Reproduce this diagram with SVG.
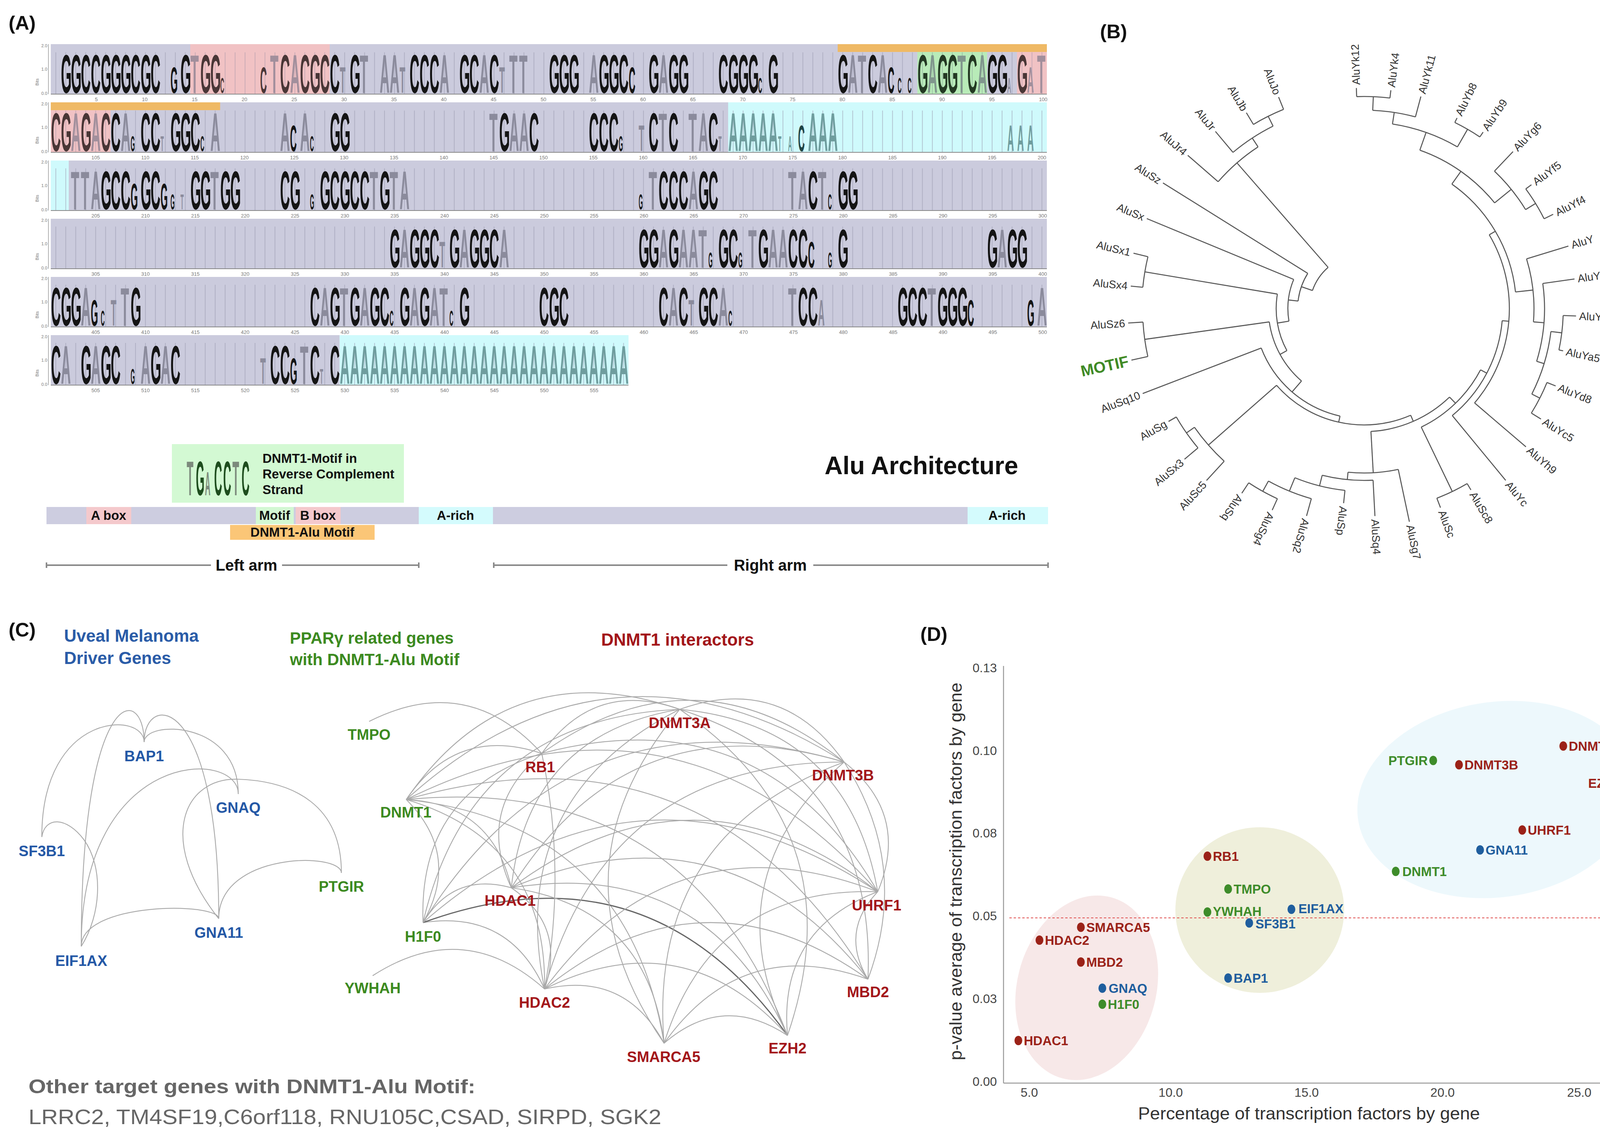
<svg xmlns="http://www.w3.org/2000/svg" width="4233" height="2911" viewBox="0 0 4233 2911">
<style>
text{font-family:"Liberation Sans",Arial,sans-serif}
.pl{font-size:50px;font-weight:bold;fill:#111}
.lg{font-weight:bold}
.bk{font-size:140px;fill:#141414}
.bg{font-size:140px;fill:#8b8b9c}
.mk{font-size:95px;fill:#141414}
.mg{font-size:95px;fill:#8b8b9c}
.sk{font-size:55px;fill:#141414}
.sg{font-size:55px;fill:#8b8b9c}
.tb{font-size:140px;fill:#6f9d9e}
.tm{font-size:95px;fill:#6f9d9e}
.ts{font-size:55px;fill:#6f9d9e}
.tc{font-size:95px;fill:#1e4444}
.tk1{font-size:13px;fill:#777;word-spacing:109.5px}
.tk3{font-size:13px;fill:#777;word-spacing:102.3px}
.ya{font-size:11px;fill:#777;text-anchor:end}
.bits{font-size:11px;fill:#777;text-anchor:middle}
.bar{font-size:33px;font-weight:bold;fill:#111;text-anchor:middle}
.arm{font-size:40px;font-weight:bold;fill:#111;text-anchor:middle}
.br{fill:none;stroke:#555;stroke-width:2.6}
.tl{font-family:"Open Sans","Liberation Sans",sans-serif;font-size:28px;fill:#333}
.ed{fill:none;stroke:#a9a9a9;stroke-width:2.2}
.nb{font-size:38px;font-weight:bold;fill:#2458a6;text-anchor:middle}
.ng{font-size:38px;font-weight:bold;fill:#3c8a1f;text-anchor:middle}
.nr{font-size:38px;font-weight:bold;fill:#a3161a;text-anchor:middle}
.dr{fill:#9b2218}.db{fill:#1f5e9e}.dg{fill:#3e8c2a}
.lr{font-size:33px;font-weight:bold;fill:#9b2218}
.lb{font-size:33px;font-weight:bold;fill:#1f5e9e}
.lgn{font-size:33px;font-weight:bold;fill:#3e8c2a}
.ax{font-size:32px;fill:#444}
</style>
<defs>
<pattern id="vg" x="130" y="0" width="25.5" height="10" patternUnits="userSpaceOnUse"><rect x="12.3" y="0" width="1.1" height="10" fill="#9a9ab0"/></pattern>
</defs>
<rect width="4233" height="2911" fill="#fff"/>

<!-- ================= PANEL A ================= -->
<g id="panelA">
<text class="pl" x="22" y="76">(A)</text>

<!-- Row 1 -->
<g id="logo-row1">
<rect x="130" y="113" width="2550" height="128" fill="#cbcbdd"/>
<rect x="487" y="113" width="357" height="128" fill="#f4cfd2"/>
<rect x="2348.5" y="133" width="178.5" height="108" fill="#d3f8d3"/>
<rect x="2603.5" y="133" width="76.5" height="108" fill="#f4cfd2"/>
<rect x="2144.5" y="113" width="535.5" height="20" fill="#efb965"/>
<rect x="130" y="134" width="2550" height="107" fill="url(#vg)"/>
<g transform="translate(130,238) scale(0.25,1)">
<text class="lg" y="0"><tspan class="bk" x="104 206 308 410 512 614 716 818 920 1022 1328 1532 1634 2348 2552 2654 2756 2858 3062 3674 3776 3878 4184 4286 4490 5102 5204 5306 5612 5714 5816 6122 6326 6428 6836 6938 7040 7142 7346 8060 8366 8876 9080 9182 9386 9590 9692 9896">GGCCGGGCGCGGGCCGCCGCCCGCCGGGGGCGGGCGGGGGCGGGCGGG</tspan><tspan class="bg" x="1430 2246 2450 3164 3368 3470 3980 4388 4694 4796 5510 6224 8162 8264 8468 8978 9284 9488 10100">TTATAAAATTAAATAATAT</tspan><tspan class="mk" x="1226 2144 5918 8570">GCCC</tspan><tspan class="mg" x="2960 3572 4592 9998">TTTA</tspan><tspan class="sk" x="1736 7244 8672 8774">CCCC</tspan><tspan class="sg" x="9794">A</tspan></text>
</g>
<rect x="487" y="113" width="357" height="128" fill="#e89a9a" opacity="0.25"/>
<rect x="2348.5" y="133" width="178.5" height="108" fill="#5cbf5c" opacity="0.22"/>
<rect x="2603.5" y="133" width="76.5" height="108" fill="#e89a9a" opacity="0.25"/>
<line x1="130" y1="241" x2="2680" y2="241" stroke="#888" stroke-width="2"/>
<line x1="124" y1="113" x2="124" y2="241" stroke="#999" stroke-width="1.5"/>
<text class="ya"><tspan x="121" y="121">2.0</tspan><tspan x="121" y="181">1.0</tspan><tspan x="121" y="243">0.0</tspan></text>
<text class="bits" transform="translate(99,210) rotate(-90)">Bits</text>
<text class="tk1" x="243" y="259">5 10 15 20 25 30 35 40 45 50 55 60 65 70 75 80 85 90 95 100</text>
</g>

<!-- Row 2 -->
<g id="logo-row2">
<rect x="130" y="262" width="2550" height="128" fill="#cbcbdd"/>
<rect x="130" y="282" width="153" height="108" fill="#f4cfd2"/>
<rect x="1864" y="262" width="816" height="128" fill="#cffafc"/>
<rect x="130" y="262" width="433.5" height="20" fill="#efb965"/>
<rect x="130" y="283" width="2550" height="107" fill="url(#vg)"/>
<g transform="translate(130,387) scale(0.25,1)">
<text class="lg" y="0"><tspan class="bk" x="2 104 308 512 614 920 1022 1226 1328 1430 2858 2960 4592 4898 5510 5612 5714 6122 6326 6734">CGGCCCCGGCGGGCCCCCCC</tspan><tspan class="bg" x="206 410 716 1634 2348 2552 4490 4694 4796 6224 6530 6632">AAAAAATAATTA</tspan><tspan class="mk" x="2450">C</tspan><tspan class="mg" x="6020">T</tspan><tspan class="sk" x="818 1532 2654 5816">GCCG</tspan><tspan class="sg" x="1124 6836">TT</tspan><tspan class="tb" x="6938 7040 7142 7244 7346 7754 7856 7958">AAAAAAAA</tspan><tspan class="tm" x="9794 9896 9998">AAA</tspan><tspan class="ts" x="7448 7550">TA</tspan><tspan class="tc" x="7652">C</tspan></text>
</g>
<rect x="130" y="282" width="153" height="108" fill="#e89a9a" opacity="0.25"/>
<line x1="130" y1="390" x2="2680" y2="390" stroke="#888" stroke-width="2"/>
<line x1="124" y1="262" x2="124" y2="390" stroke="#999" stroke-width="1.5"/>
<text class="ya"><tspan x="121" y="270">2.0</tspan><tspan x="121" y="330">1.0</tspan><tspan x="121" y="392">0.0</tspan></text>
<text class="bits" transform="translate(99,359) rotate(-90)">Bits</text>
<text class="tk3" x="234" y="408">105 110 115 120 125 130 135 140 145 150 155 160 165 170 175 180 185 190 195 200</text>
</g>

<!-- Row 3 -->
<g id="logo-row3">
<rect x="130" y="411" width="2550" height="128" fill="#cbcbdd"/>
<rect x="130" y="411" width="46" height="128" fill="#cffafc"/>
<rect x="130" y="431" width="2550" height="108" fill="url(#vg)"/>
<g transform="translate(130,536) scale(0.25,1)">
<text class="lg" y="0"><tspan class="bk" x="512 614 716 920 1022 1430 1532 1736 1838 2348 2450 2756 2858 2960 3062 3164 3368 6224 6326 6428 6632 6734 7754 8060 8162">GCCGCGGGGCGGCGCCGCCCGCCGG</tspan><tspan class="bg" x="206 308 410 1634 3266 3470 3572 6122 6530 7550 7652 7856">TTATTTATATAT</tspan><tspan class="mk" x="818 1124">GG</tspan><tspan class="sk" x="1226 2654 6020 7958">GGGC</tspan><tspan class="sg" x="1328">T</tspan></text>
</g>
<line x1="130" y1="539" x2="2680" y2="539" stroke="#888" stroke-width="2"/>
<line x1="124" y1="411" x2="124" y2="539" stroke="#999" stroke-width="1.5"/>
<text class="ya"><tspan x="121" y="419">2.0</tspan><tspan x="121" y="479">1.0</tspan><tspan x="121" y="541">0.0</tspan></text>
<text class="bits" transform="translate(99,508) rotate(-90)">Bits</text>
<text class="tk3" x="234" y="557">205 210 215 220 225 230 235 240 245 250 255 260 265 270 275 280 285 290 295 300</text>
</g>

<!-- Row 4 -->
<g id="logo-row4">
<rect x="130" y="560" width="2550" height="128" fill="#cbcbdd"/>
<rect x="130" y="580" width="2550" height="108" fill="url(#vg)"/>
<g transform="translate(130,685) scale(0.25,1)">
<text class="lg" y="0"><tspan class="bk" x="3470 3674 3776 3878 4082 4286 4388 4490 6020 6122 6326 6836 6938 7244 7550 7652 8060 9590 9794 9896">GGGCGGGCGGGGCGCCGGGG</tspan><tspan class="bg" x="3572 4184 4592 6224 6428 6530 6632 7142 7346 7448 9692">AAAAAATTAAA</tspan><tspan class="mg" x="3980">T</tspan><tspan class="mk" x="7754">C</tspan><tspan class="sk" x="6734 7040 7958">GGG</tspan></text>
</g>
<line x1="130" y1="688" x2="2680" y2="688" stroke="#888" stroke-width="2"/>
<line x1="124" y1="560" x2="124" y2="688" stroke="#999" stroke-width="1.5"/>
<text class="ya"><tspan x="121" y="568">2.0</tspan><tspan x="121" y="628">1.0</tspan><tspan x="121" y="690">0.0</tspan></text>
<text class="bits" transform="translate(99,657) rotate(-90)">Bits</text>
<text class="tk3" x="234" y="706">305 310 315 320 325 330 335 340 345 350 355 360 365 370 375 380 385 390 395 400</text>
</g>

<!-- Row 5 -->
<g id="logo-row5">
<rect x="130" y="709" width="2550" height="128" fill="#cbcbdd"/>
<rect x="130" y="729" width="2550" height="108" fill="url(#vg)"/>
<g transform="translate(130,834) scale(0.25,1)">
<text class="lg" y="0"><tspan class="bk" x="2 104 206 818 2654 2858 3062 3266 3368 3572 3776 4184 5000 5102 5204 6224 6428 6632 6734 7652 7754 8672 8774 8876 9080 9182 9284">CGGGCGGGCGGGCGCCCGCCCGCCGGG</tspan><tspan class="bg" x="308 716 2756 2960 3164 3674 3878 3980 6326 6836 7550 8978 10100">ATATAAATAATTA</tspan><tspan class="mk" x="410 9386 9998">GCG</tspan><tspan class="mg" x="614 6530 7856">TTA</tspan><tspan class="sk" x="512 3470 4082 6938">CCCC</tspan></text>
</g>
<line x1="130" y1="837" x2="2680" y2="837" stroke="#888" stroke-width="2"/>
<line x1="124" y1="709" x2="124" y2="837" stroke="#999" stroke-width="1.5"/>
<text class="ya"><tspan x="121" y="717">2.0</tspan><tspan x="121" y="777">1.0</tspan><tspan x="121" y="839">0.0</tspan></text>
<text class="bits" transform="translate(99,806) rotate(-90)">Bits</text>
<text class="tk3" x="234" y="855">405 410 415 420 425 430 435 440 445 450 455 460 465 470 475 480 485 490 495 500</text>
</g>

<!-- Row 6 -->
<g id="logo-row6">
<rect x="130" y="858" width="739.5" height="128" fill="#cbcbdd"/>
<rect x="869.5" y="858" width="739.5" height="128" fill="#cffafc"/>
<rect x="130" y="878" width="1479" height="108" fill="url(#vg)"/>
<g transform="translate(130,983) scale(0.25,1)">
<text class="lg" y="0"><tspan class="bk" x="2 308 512 614 1022 1226 2246 2348 2654 2858">CGGCGCCCCC</tspan><tspan class="bg" x="104 410 920 1124 2552">AAAAT</tspan><tspan class="mg" x="2144">T</tspan><tspan class="mk" x="2450">G</tspan><tspan class="sk" x="818">G</tspan><tspan class="sg" x="2756">T</tspan><tspan class="tb" x="2960 3062 3164 3266 3368 3470 3572 3674 3776 3878 3980 4082 4184 4286 4388 4490 4592 4694 4796 4898 5000 5102 5204 5306 5408 5510 5612 5714 5816">AAAAAAAAAAAAAAAAAAAAAAAAAAAAA</tspan></text>
</g>
<line x1="130" y1="986" x2="1609" y2="986" stroke="#888" stroke-width="2"/>
<line x1="124" y1="858" x2="124" y2="986" stroke="#999" stroke-width="1.5"/>
<text class="ya"><tspan x="121" y="866">2.0</tspan><tspan x="121" y="926">1.0</tspan><tspan x="121" y="988">0.0</tspan></text>
<text class="bits" transform="translate(99,955) rotate(-90)">Bits</text>
<text class="tk3" x="234" y="1004">505 510 515 520 525 530 535 540 545 550 555</text>
</g>

<!-- Motif box -->
<g id="motif-box">
<rect x="440" y="1137" width="594" height="150" fill="#d3f9d3"/>
<g transform="translate(478,1268) scale(0.225,1)">
<text class="lg" y="0"><tspan x="0 520" style="font-size:125px;fill:#7c8a7c">TT</tspan><tspan x="104 312 416 624" style="font-size:125px;fill:#1e4d1e">GCCC</tspan><tspan x="208" style="font-size:85px;fill:#7c8a7c">A</tspan></text>
</g>
<text style="font-size:33px;font-weight:bold;fill:#111"><tspan x="672" y="1185">DNMT1-Motif in</tspan><tspan x="672" y="1225">Reverse Complement</tspan><tspan x="672" y="1265">Strand</tspan></text>
</g>
<text id="alu-title" x="2111" y="1214" style="font-size:64px;font-weight:bold;fill:#111">Alu Architecture</text>

<!-- Architecture bar -->
<g id="arch-bar">
<rect x="119" y="1298" width="2564" height="44" fill="#cdcde0"/>
<rect x="221" y="1298" width="115" height="44" fill="#f4c9cc"/>
<rect x="655" y="1298" width="97" height="44" fill="#d3f8d3"/>
<rect x="757" y="1298" width="115" height="44" fill="#f4c9cc"/>
<rect x="1072" y="1298" width="190" height="44" fill="#d4fbfd"/>
<rect x="2477" y="1298" width="206" height="44" fill="#d4fbfd"/>
<text class="bar" x="278" y="1331">A box</text>
<text class="bar" x="703" y="1331">Motif</text>
<text class="bar" x="814" y="1331">B box</text>
<text class="bar" x="1166" y="1331">A-rich</text>
<text class="bar" x="2578" y="1331">A-rich</text>
<rect x="589" y="1344" width="370" height="38" fill="#fbc677"/>
<text class="bar" x="774" y="1374">DNMT1-Alu Motif</text>
</g>
<g id="arms" stroke="#8a8a8a" stroke-width="4">
<line x1="119" y1="1447" x2="540" y2="1447"/><line x1="722" y1="1447" x2="1072" y2="1447"/>
<line x1="119" y1="1440" x2="119" y2="1454"/><line x1="1072" y1="1440" x2="1072" y2="1454"/>
<line x1="1264" y1="1447" x2="1862" y2="1447"/><line x1="2082" y1="1447" x2="2683" y2="1447"/>
<line x1="1264" y1="1440" x2="1264" y2="1454"/><line x1="2683" y1="1440" x2="2683" y2="1454"/>
</g>
<text class="arm" x="631" y="1461">Left arm</text>
<text class="arm" x="1972" y="1461">Right arm</text>
</g>

<!-- ================= PANEL B ================= -->
<g id="panelB">
<text class="pl" x="2816" y="98">(B)</text>
<g id="tree-branches" class="br" transform="translate(3492,790)">
<circle r="543" pathLength="360" stroke-dasharray="9 400" transform="rotate(-92)"/>
<circle r="508" pathLength="360" stroke-dasharray="12.5 400" transform="rotate(-87.5)"/>
<circle r="530" pathLength="360" stroke-dasharray="8 400" transform="rotate(-64)"/>
<circle r="478" pathLength="360" stroke-dasharray="21.25 400" transform="rotate(-81.25)"/>
<circle r="515" pathLength="360" stroke-dasharray="10 400" transform="rotate(-36.5)"/>
<circle r="485" pathLength="360" stroke-dasharray="15 400" transform="rotate(-46.5)"/>
<circle r="430" pathLength="360" stroke-dasharray="31.6 400" transform="rotate(-70.6)"/>
<circle r="510" pathLength="360" stroke-dasharray="10 400" transform="rotate(2)"/>
<circle r="505" pathLength="360" stroke-dasharray="10 400" transform="rotate(22)"/>
<circle r="482" pathLength="360" stroke-dasharray="20 400" transform="rotate(7)"/>
<circle r="462" pathLength="360" stroke-dasharray="25 400" transform="rotate(-8)"/>
<circle r="435" pathLength="360" stroke-dasharray="21.5 400" transform="rotate(-17)"/>
<circle r="390" pathLength="360" stroke-dasharray="48.55 400" transform="rotate(-54.8)"/>
<circle r="372" pathLength="360" stroke-dasharray="71 400" transform="rotate(-30.5)"/>
<circle r="355" pathLength="360" stroke-dasharray="45.5 400" transform="rotate(5)"/>
<circle r="520" pathLength="360" stroke-dasharray="9.5 400" transform="rotate(59.5)"/>
<circle r="337" pathLength="360" stroke-dasharray="36.5 400" transform="rotate(27.75)"/>
<circle r="535" pathLength="360" stroke-dasharray="9 400" transform="rotate(114.5)"/>
<circle r="505" pathLength="360" stroke-dasharray="13.5 400" transform="rotate(105.5)"/>
<circle r="468" pathLength="360" stroke-dasharray="16.25 400" transform="rotate(96)"/>
<circle r="440" pathLength="360" stroke-dasharray="17.1 400" transform="rotate(87)"/>
<circle r="421" pathLength="360" stroke-dasharray="17.6 400" transform="rotate(78)"/>
<circle r="315" pathLength="360" stroke-dasharray="40.8 400" transform="rotate(46)"/>
<circle r="555" pathLength="360" stroke-dasharray="10 400" transform="rotate(140)"/>
<circle r="530" pathLength="360" stroke-dasharray="12.5 400" transform="rotate(132.5)"/>
<circle r="298" pathLength="360" stroke-dasharray="72.35 400" transform="rotate(66.4)"/>
<circle r="282" pathLength="360" stroke-dasharray="56.4 400" transform="rotate(102.6)"/>
<circle r="567" pathLength="360" stroke-dasharray="9 400" transform="rotate(167.5)"/>
<circle r="245" pathLength="360" stroke-dasharray="41.2 400" transform="rotate(130.8)"/>
<circle r="569" pathLength="360" stroke-dasharray="8 400" transform="rotate(185.5)"/>
<circle r="225" pathLength="360" stroke-dasharray="38.1 400" transform="rotate(151.4)"/>
<circle r="195" pathLength="360" stroke-dasharray="32 400" transform="rotate(170.5)"/>
<circle r="170" pathLength="360" stroke-dasharray="25.5 400" transform="rotate(186.5)"/>
<circle r="550" pathLength="360" stroke-dasharray="9 400" transform="rotate(239)"/>
<circle r="522" pathLength="360" stroke-dasharray="13.5 400" transform="rotate(230)"/>
<circle r="495" pathLength="360" stroke-dasharray="15.75 400" transform="rotate(221)"/>
<circle r="140" pathLength="360" stroke-dasharray="29.65 400" transform="rotate(199.25)"/>
<line x1="543" x2="565" transform="rotate(-92)"/>
<line x1="543" x2="563" transform="rotate(-83)"/>
<line x1="508" x2="562" transform="rotate(-75)"/>
<line x1="530" x2="543" transform="rotate(-64)"/>
<line x1="530" x2="545" transform="rotate(-56)"/>
<line x1="485" x2="554" transform="rotate(-46.5)"/>
<line x1="515" x2="533" transform="rotate(-36.5)"/>
<line x1="515" x2="541" transform="rotate(-26.5)"/>
<line x1="435" x2="547" transform="rotate(-17)"/>
<line x1="462" x2="544" transform="rotate(-8)"/>
<line x1="510" x2="543" transform="rotate(2)"/>
<line x1="510" x2="521" transform="rotate(12)"/>
<line x1="505" x2="529" transform="rotate(22)"/>
<line x1="505" x2="534" transform="rotate(32)"/>
<line x1="372" x2="545" transform="rotate(40.5)"/>
<line x1="355" x2="570" transform="rotate(50.5)"/>
<line x1="520" x2="539" transform="rotate(59.5)"/>
<line x1="520" x2="546" transform="rotate(69)"/>
<line x1="421" x2="558" transform="rotate(78)"/>
<line x1="440" x2="532" transform="rotate(87)"/>
<line x1="468" x2="501" transform="rotate(96)"/>
<line x1="505" x2="551" transform="rotate(105.5)"/>
<line x1="535" x2="567" transform="rotate(114.5)"/>
<line x1="535" x2="567" transform="rotate(123.5)"/>
<line x1="530" x2="597" transform="rotate(132.5)"/>
<line x1="555" x2="600" transform="rotate(140)"/>
<line x1="555" x2="578" transform="rotate(150)"/>
<line x1="282" x2="607" transform="rotate(159)"/>
<line x1="567" x2="610" transform="rotate(167.5)"/>
<line x1="567" x2="605" transform="rotate(176.5)"/>
<line x1="569" x2="600" transform="rotate(185.5)"/>
<line x1="569" x2="607" transform="rotate(193.5)"/>
<line x1="195" x2="602" transform="rotate(202.5)"/>
<line x1="170" x2="607" transform="rotate(212)"/>
<line x1="495" x2="598" transform="rotate(221)"/>
<line x1="522" x2="592" transform="rotate(230)"/>
<line x1="550" x2="585" transform="rotate(239)"/>
<line x1="550" x2="584" transform="rotate(248)"/>
<line x1="508" x2="543" transform="rotate(-87.5)"/>
<line x1="478" x2="508" transform="rotate(-81.25)"/>
<line x1="478" x2="530" transform="rotate(-60)"/>
<line x1="430" x2="478" transform="rotate(-70.6)"/>
<line x1="485" x2="515" transform="rotate(-31.5)"/>
<line x1="430" x2="485" transform="rotate(-39)"/>
<line x1="390" x2="430" transform="rotate(-54.8)"/>
<line x1="482" x2="510" transform="rotate(7)"/>
<line x1="482" x2="505" transform="rotate(27)"/>
<line x1="462" x2="482" transform="rotate(17)"/>
<line x1="435" x2="462" transform="rotate(4.5)"/>
<line x1="390" x2="435" transform="rotate(-6.25)"/>
<line x1="372" x2="390" transform="rotate(-30.5)"/>
<line x1="355" x2="372" transform="rotate(5)"/>
<line x1="337" x2="355" transform="rotate(27.75)"/>
<line x1="337" x2="520" transform="rotate(64.25)"/>
<line x1="315" x2="337" transform="rotate(46)"/>
<line x1="505" x2="535" transform="rotate(119)"/>
<line x1="468" x2="505" transform="rotate(112.25)"/>
<line x1="440" x2="468" transform="rotate(104.1)"/>
<line x1="421" x2="440" transform="rotate(95.6)"/>
<line x1="315" x2="421" transform="rotate(86.8)"/>
<line x1="298" x2="315" transform="rotate(66.4)"/>
<line x1="530" x2="555" transform="rotate(145)"/>
<line x1="298" x2="530" transform="rotate(138.75)"/>
<line x1="282" x2="298" transform="rotate(102.6)"/>
<line x1="245" x2="282" transform="rotate(130.8)"/>
<line x1="245" x2="567" transform="rotate(172)"/>
<line x1="225" x2="245" transform="rotate(151.4)"/>
<line x1="225" x2="569" transform="rotate(189.5)"/>
<line x1="195" x2="225" transform="rotate(170.5)"/>
<line x1="170" x2="195" transform="rotate(186.5)"/>
<line x1="140" x2="170" transform="rotate(199.25)"/>
<line x1="522" x2="550" transform="rotate(243.5)"/>
<line x1="495" x2="522" transform="rotate(236.75)"/>
<line x1="140" x2="495" transform="rotate(228.9)"/>
</g>
<g id="tree-labels" class="tl" transform="translate(3492,790)">
<text transform="rotate(-92) translate(573,0)" dy="0.35em">AluYk12</text>
<text transform="rotate(-83) translate(571,0)" dy="0.35em">AluYk4</text>
<text transform="rotate(-75) translate(570,0)" dy="0.35em">AluYk11</text>
<text transform="rotate(-64) translate(551,0)" dy="0.35em">AluYb8</text>
<text transform="rotate(-56) translate(553,0)" dy="0.35em">AluYb9</text>
<text transform="rotate(-46.5) translate(562,0)" dy="0.35em">AluYg6</text>
<text transform="rotate(-36.5) translate(541,0)" dy="0.35em">AluYf5</text>
<text transform="rotate(-26.5) translate(549,0)" dy="0.35em">AluYf4</text>
<text transform="rotate(-17) translate(555,0)" dy="0.35em">AluY</text>
<text transform="rotate(-8) translate(552,0)" dy="0.35em">AluYc3</text>
<text transform="rotate(2) translate(551,0)" dy="0.35em">AluYa8</text>
<text transform="rotate(12) translate(529,0)" dy="0.35em">AluYa5</text>
<text transform="rotate(22) translate(537,0)" dy="0.35em">AluYd8</text>
<text transform="rotate(32) translate(542,0)" dy="0.35em">AluYc5</text>
<text transform="rotate(40.5) translate(553,0)" dy="0.35em">AluYh9</text>
<text transform="rotate(50.5) translate(578,0)" dy="0.35em">AluYc</text>
<text transform="rotate(59.5) translate(547,0)" dy="0.35em">AluSc8</text>
<text transform="rotate(69) translate(554,0)" dy="0.35em">AluSc</text>
<text transform="rotate(78) translate(566,0)" dy="0.35em">AluSg7</text>
<text transform="rotate(87) translate(540,0)" dy="0.35em">AluSq4</text>
<text transform="rotate(96) translate(509,0)" dy="0.35em">AluSp</text>
<text transform="rotate(105.5) translate(559,0)" dy="0.35em">AluSq2</text>
<text transform="rotate(114.5) translate(575,0)" dy="0.35em">AluSg4</text>
<text transform="rotate(123.5) translate(575,0)" dy="0.35em">AluSq</text>
<text transform="rotate(132.5) translate(605,0) rotate(180)" dy="0.35em" text-anchor="end">AluSc5</text>
<text transform="rotate(140) translate(608,0) rotate(180)" dy="0.35em" text-anchor="end">AluSx3</text>
<text transform="rotate(150) translate(586,0) rotate(180)" dy="0.35em" text-anchor="end">AluSg</text>
<text transform="rotate(159) translate(615,0) rotate(180)" dy="0.35em" text-anchor="end">AluSq10</text>
<text transform="rotate(167.5) translate(618,0) rotate(180)" dy="0.35em" text-anchor="end" style="font-family:'Liberation Sans',Arial,sans-serif;font-size:40px;font-weight:bold;fill:#3f8a25">MOTIF</text>
<text transform="rotate(176.5) translate(613,0) rotate(180)" dy="0.35em" text-anchor="end">AluSz6</text>
<text transform="rotate(185.5) translate(608,0) rotate(180)" dy="0.35em" text-anchor="end">AluSx4</text>
<text transform="rotate(193.5) translate(615,0) rotate(180)" dy="0.35em" text-anchor="end">AluSx1</text>
<text transform="rotate(202.5) translate(610,0) rotate(180)" dy="0.35em" text-anchor="end">AluSx</text>
<text transform="rotate(212) translate(615,0) rotate(180)" dy="0.35em" text-anchor="end">AluSz</text>
<text transform="rotate(221) translate(606,0) rotate(180)" dy="0.35em" text-anchor="end">AluJr4</text>
<text transform="rotate(230) translate(600,0) rotate(180)" dy="0.35em" text-anchor="end">AluJr</text>
<text transform="rotate(239) translate(593,0) rotate(180)" dy="0.35em" text-anchor="end">AluJb</text>
<text transform="rotate(248) translate(592,0) rotate(180)" dy="0.35em" text-anchor="end">AluJo</text>
</g>
</g>

<!-- ================= PANEL C ================= -->
<g id="panelC">
<text class="pl" x="22" y="1630">(C)</text>
<text style="font-size:44px;font-weight:bold;fill:#2a5ca8"><tspan x="164" y="1643">Uveal Melanoma</tspan><tspan x="164" y="1700">Driver Genes</tspan></text>
<text style="font-size:42px;font-weight:bold;fill:#3c8a1f"><tspan x="742" y="1648">PPARγ related genes</tspan><tspan x="742" y="1703">with DNMT1-Alu Motif</tspan></text>
<text x="1539" y="1653" style="font-size:44px;font-weight:bold;fill:#a3161a">DNMT1 interactors</text>

<g id="edges-left" class="ed">
<path d="M107,2143 C107,1820 369,1820 369,1900"/>
<path d="M208,2423 C208,1750 369,1750 369,1900"/>
<path d="M369,1900 C369,1771 560,1771 560,2352"/>
<path d="M369,1900 C369,1843 610,1843 610,2033"/>
<path d="M208,2423 C208,1915 610,1915 610,2033"/>
<path d="M560,2352 C560,2181 874,2181 874,2235"/>
<path d="M560,2352 C400,2150 470,1990 610,1995 C750,2000 874,2060 874,2235"/>
<path d="M107,2143 C115,2090 170,2090 215,2150 C265,2220 260,2340 208,2423"/>
<path d="M208,2423 C208,2309 560,2309 560,2352"/>
</g>
<g id="edges-right" class="ed">
<path d="M945,1847 Q1197,1720 1387,1929"/>
<path d="M954,2498 Q1187,2348 1394,2532"/>
<path d="M1040,2047 Q1169,1856 1387,1929"/>
<path d="M1040,2047 Q1302,1666 1740,1816"/>
<path d="M1040,2047 Q1564,1573 2161,1951"/>
<path d="M1040,2047 Q1733,1706 2247,2283"/>
<path d="M1040,2047 Q1260,2058 1309,2273"/>
<path d="M1040,2047 Q1401,2155 1394,2532"/>
<path d="M1040,2047 Q1806,1828 2222,2507"/>
<path d="M1040,2047 Q1758,1978 2016,2651"/>
<path d="M1040,2047 Q1607,2108 1700,2671"/>
<path d="M1040,2047 Q1181,2188 1083,2362"/>
<path d="M1083,2362 Q1070,2030 1387,1929"/>
<path d="M1083,2362 Q1204,1839 1740,1816"/>
<path d="M1083,2362 Q1466,1747 2161,1951"/>
<path d="M1083,2362 Q1162,2232 1309,2273"/>
<path d="M1083,2362 Q1303,2329 1394,2532"/>
<path d="M1083,2362 Q1659,2152 2016,2651" style="stroke:#666;stroke-width:3"/>
<path d="M1083,2362 Q1635,1880 2247,2283"/>
<path d="M1387,1929 Q1521,1738 1740,1816"/>
<path d="M1387,1929 Q1782,1646 2161,1951"/>
<path d="M1309,2273 Q1217,2071 1387,1929"/>
<path d="M1387,1929 Q1451,2230 1394,2532"/>
<path d="M1740,1816 Q2002,1724 2161,1951"/>
<path d="M1740,1816 Q2171,1857 2247,2283"/>
<path d="M1740,1816 Q2195,2129 2016,2651"/>
<path d="M1309,2273 Q1351,1881 1740,1816"/>
<path d="M1394,2532 Q1295,2042 1740,1816"/>
<path d="M1740,1816 Q2244,1978 2222,2507"/>
<path d="M1700,2671 Q1395,2228 1740,1816"/>
<path d="M2161,1951 Q2330,2084 2247,2283"/>
<path d="M2161,1951 Q2331,2214 2222,2507"/>
<path d="M1309,2273 Q1613,1788 2161,1951"/>
<path d="M1394,2532 Q1557,1950 2161,1951"/>
<path d="M1700,2671 Q1657,2136 2161,1951"/>
<path d="M2016,2651 Q1822,2246 2161,1951"/>
<path d="M1309,2273 Q1450,2370 1394,2532"/>
<path d="M1309,2273 Q1782,1922 2247,2283"/>
<path d="M1309,2273 Q1854,2043 2222,2507"/>
<path d="M1309,2273 Q1806,2193 2016,2651"/>
<path d="M1309,2273 Q1656,2323 1700,2671"/>
<path d="M1394,2532 Q1799,2205 2222,2507"/>
<path d="M1394,2532 Q1750,2355 2016,2651"/>
<path d="M1394,2532 Q1600,2485 1700,2671"/>
<path d="M1394,2532 Q1726,2083 2247,2283"/>
<path d="M1700,2671 Q1850,2541 2016,2651"/>
<path d="M2222,2507 Q2149,2386 2247,2283"/>
<path d="M1700,2671 Q1826,2269 2247,2283"/>
<path d="M1700,2671 Q1899,2391 2222,2507"/>
<path d="M2016,2651 Q1992,2379 2247,2283"/>
<path d="M1387,1929 Q1952,1779 2247,2283"/>
</g>

<g id="node-BAP1"><text class="nb" x="369" y="1949">BAP1</text></g>
<g id="node-GNAQ"><text class="nb" x="610" y="2081">GNAQ</text></g>
<g id="node-SF3B1"><text class="nb" x="107" y="2192">SF3B1</text></g>
<g id="node-PTGIR"><text class="ng" x="874" y="2283">PTGIR</text></g>
<g id="node-GNA11"><text class="nb" x="560" y="2401">GNA11</text></g>
<g id="node-EIF1AX"><text class="nb" x="208" y="2473">EIF1AX</text></g>
<g id="node-TMPO"><text class="ng" x="945" y="1894">TMPO</text></g>
<g id="node-RB1"><text class="nr" x="1383" y="1977">RB1</text></g>
<g id="node-DNMT1"><text class="ng" x="1039" y="2093">DNMT1</text></g>
<g id="node-HDAC1"><text class="nr" x="1306" y="2319">HDAC1</text></g>
<g id="node-H1F0"><text class="ng" x="1083" y="2411">H1F0</text></g>
<g id="node-YWHAH"><text class="ng" x="954" y="2543">YWHAH</text></g>
<g id="node-HDAC2"><text class="nr" x="1394" y="2580">HDAC2</text></g>
<g id="node-DNMT3A"><text class="nr" x="1740" y="1864">DNMT3A</text></g>
<g id="node-DNMT3B"><text class="nr" x="2158" y="1998">DNMT3B</text></g>
<g id="node-UHRF1"><text class="nr" x="2244" y="2331">UHRF1</text></g>
<g id="node-MBD2"><text class="nr" x="2222" y="2553">MBD2</text></g>
<g id="node-EZH2"><text class="nr" x="2016" y="2697">EZH2</text></g>
<g id="node-SMARCA5"><text class="nr" x="1699" y="2719">SMARCA5</text></g>

<text x="73" y="2799" textLength="1144" lengthAdjust="spacingAndGlyphs" style="font-size:50px;font-weight:bold;fill:#666">Other target genes with DNMT1-Alu Motif:</text>
<text x="73" y="2878" textLength="1620" lengthAdjust="spacingAndGlyphs" style="font-size:54px;fill:#666">LRRC2, TM4SF19,C6orf118, RNU105C,CSAD, SIRPD, SGK2</text>
</g>

<!-- ================= PANEL D ================= -->
<g id="panelD">
<text class="pl" x="2356" y="1641">(D)</text>
<ellipse cx="2782" cy="2529" rx="178" ry="240" fill="#f7e8e8" transform="rotate(15 2782 2529)"/>
<ellipse cx="3225" cy="2330" rx="216" ry="212" fill="#efefdb"/>
<ellipse cx="3833" cy="2047" rx="360" ry="250" fill="#edf8fc" transform="rotate(-8 3833 2047)"/>
<line x1="2569" y1="1705" x2="2569" y2="2773" stroke="#999" stroke-width="2.5"/>
<line x1="2569" y1="2773" x2="4200" y2="2773" stroke="#999" stroke-width="2.5"/>
<line x1="2584" y1="2350" x2="4184" y2="2350" stroke="#e05050" stroke-width="2" stroke-dasharray="6 5"/>
<text class="ax" text-anchor="end"><tspan x="2552" y="1721">0.13</tspan><tspan x="2552" y="1933">0.10</tspan><tspan x="2552" y="2144">0.08</tspan><tspan x="2552" y="2356">0.05</tspan><tspan x="2552" y="2568">0.03</tspan><tspan x="2552" y="2780">0.00</tspan></text>
<text class="ax" text-anchor="middle" y="2808"><tspan x="2635">5.0</tspan><tspan x="2997">10.0</tspan><tspan x="3345">15.0</tspan><tspan x="3693">20.0</tspan><tspan x="4043">25.0</tspan></text>
<text x="3351" y="2866" text-anchor="middle" textLength="875" lengthAdjust="spacingAndGlyphs" style="font-size:45px;fill:#333">Percentage of transcription factors by gene</text>
<text transform="translate(2462,2231) rotate(-90)" text-anchor="middle" textLength="967" lengthAdjust="spacingAndGlyphs" style="font-size:45px;fill:#333">p-value average of transcription factors by gene</text>

<g id="points">
<g id="pt-DNMT3A"><ellipse class="dr" cx="4002" cy="1910" rx="10" ry="12"/><text class="lr" x="4016" y="1922">DNMT3A</text></g>
<g id="pt-PTGIR"><ellipse class="dg" cx="3669" cy="1947" rx="10" ry="12"/><text class="lgn" x="3655" y="1959" text-anchor="end">PTGIR</text></g>
<g id="pt-DNMT3B"><ellipse class="dr" cx="3735" cy="1958" rx="10" ry="12"/><text class="lr" x="3749" y="1970">DNMT3B</text></g>
<g id="pt-EZH2"><ellipse class="dr" cx="4164" cy="2005" rx="10" ry="12"/><text class="lr" x="4150" y="2017" text-anchor="end">EZH2</text></g>
<g id="pt-UHRF1"><ellipse class="dr" cx="3897" cy="2125" rx="10" ry="12"/><text class="lr" x="3911" y="2137">UHRF1</text></g>
<g id="pt-GNA11"><ellipse class="db" cx="3789" cy="2176" rx="10" ry="12"/><text class="lb" x="3803" y="2188">GNA11</text></g>
<g id="pt-DNMT1"><ellipse class="dg" cx="3573" cy="2231" rx="10" ry="12"/><text class="lgn" x="3590" y="2243">DNMT1</text></g>
<g id="pt-RB1"><ellipse class="dr" cx="3091" cy="2192" rx="10" ry="12"/><text class="lr" x="3105" y="2204">RB1</text></g>
<g id="pt-TMPO"><ellipse class="dg" cx="3144" cy="2276" rx="10" ry="12"/><text class="lgn" x="3158" y="2288">TMPO</text></g>
<g id="pt-YWHAH"><ellipse class="dg" cx="3091" cy="2335" rx="10" ry="12"/><text class="lgn" x="3105" y="2345">YWHAH</text></g>
<g id="pt-EIF1AX"><ellipse class="db" cx="3306" cy="2328" rx="10" ry="12"/><text class="lb" x="3324" y="2338">EIF1AX</text></g>
<g id="pt-SF3B1"><ellipse class="db" cx="3198" cy="2363" rx="10" ry="12"/><text class="lb" x="3214" y="2377">SF3B1</text></g>
<g id="pt-BAP1"><ellipse class="db" cx="3144" cy="2504" rx="10" ry="12"/><text class="lb" x="3158" y="2516">BAP1</text></g>
<g id="pt-SMARCA5"><ellipse class="dr" cx="2767" cy="2374" rx="10" ry="12"/><text class="lr" x="2781" y="2386">SMARCA5</text></g>
<g id="pt-HDAC2"><ellipse class="dr" cx="2661" cy="2407" rx="10" ry="12"/><text class="lr" x="2675" y="2419">HDAC2</text></g>
<g id="pt-MBD2"><ellipse class="dr" cx="2767" cy="2463" rx="10" ry="12"/><text class="lr" x="2781" y="2475">MBD2</text></g>
<g id="pt-GNAQ"><ellipse class="db" cx="2822" cy="2530" rx="10" ry="12"/><text class="lb" x="2838" y="2542">GNAQ</text></g>
<g id="pt-H1F0"><ellipse class="dg" cx="2822" cy="2571" rx="10" ry="12"/><text class="lgn" x="2836" y="2583">H1F0</text></g>
<g id="pt-HDAC1"><ellipse class="dr" cx="2607" cy="2664" rx="10" ry="12"/><text class="lr" x="2621" y="2676">HDAC1</text></g>
</g>
</g>
</svg>
